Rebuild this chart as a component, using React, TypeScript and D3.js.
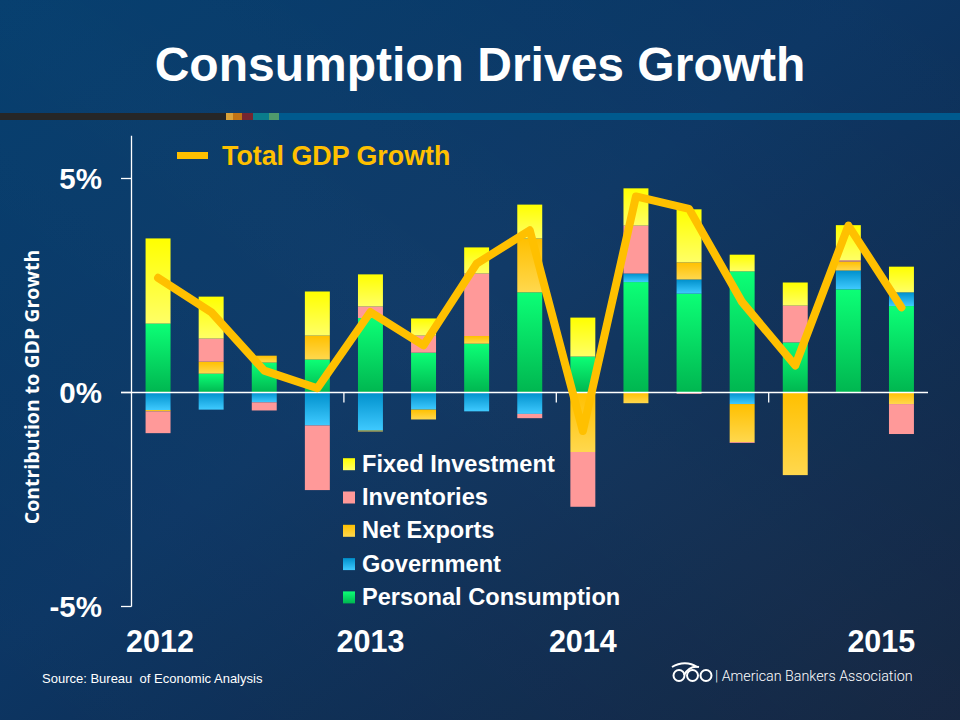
import * as d3 from "d3";

// ── Data ──────────────────────────────────────────────────────────────────────

const QUARTERS = [
  "2012Q1", "2012Q2", "2012Q3", "2012Q4",
  "2013Q1", "2013Q2", "2013Q3", "2013Q4",
  "2014Q1", "2014Q2", "2014Q3", "2014Q4",
  "2015Q1", "2015Q2", "2015Q3",
];

const SERIES = ["Personal Consumption", "Government", "Net Exports", "Inventories", "Fixed Investment"];

const CONSUMPTION = [1.61, 0.44, 0.70, 0.77, 1.74, 0.93, 1.14, 2.34, 0.84, 2.58, 2.31, 2.83, 1.17, 2.41, 2.02];
const GOVERNMENT  = [-0.41, -0.40, -0.23, -0.77, -0.89, -0.40, -0.44, -0.50, 0, 0.20, 0.33, -0.27, 0, 0.44, 0.32];
const NET_EXPORTS = [-0.03, 0.28, 0.16, 0.56, -0.02, -0.23, 0.18, 1.26, -1.39, -0.25, 0.40, -0.89, -1.93, 0.21, -0.27];
const INVENTORIES = [-0.51, 0.54, -0.19, -1.51, 0.27, 0.40, 1.46, -0.10, -1.28, 1.12, -0.03, -0.02, 0.86, 0.03, -0.70];
const FIXED_INV   = [1.99, 0.98, 0, 1.03, 0.75, 0.40, 0.61, 0.79, 0.91, 0.87, 1.24, 0.39, 0.54, 0.82, 0.60];

const TOTAL_GDP = [2.68, 1.88, 0.51, 0.10, 1.88, 1.10, 3.01, 3.79, -0.90, 4.58, 4.29, 2.11, 0.63, 3.90, 1.99];

const Y_TICKS = [-5, 0, 5];
const YEARS = ["2012", "2013", "2014", "2015"];

// ── Config ────────────────────────────────────────────────────────────────────

const W = 960;
const H = 720;
const FONT = "'Liberation Sans', Arial, Helvetica, sans-serif";

const GRADS: Record<string, [string, string]> = {
  "Personal Consumption": ["#0cff76", "#00b650"],
  "Government":           ["#0090cc", "#3fcaff"],
  "Net Exports":          ["#ffc000", "#ffd84e"],
  "Inventories":          ["#ff9999", "#ff9999"],
  "Fixed Investment":     ["#ffff00", "#ffff66"],
};

const STRIPE = [
  { x0: 0,   x1: 226, c: "#262626" },
  { x0: 226, x1: 233, c: "#d9a23a" },
  { x0: 233, x1: 242, c: "#c07314" },
  { x0: 242, x1: 253, c: "#762530" },
  { x0: 253, x1: 269, c: "#0a7c8c" },
  { x0: 269, x1: 279, c: "#4f9a6c" },
  { x0: 279, x1: 960, c: "#005a8e" },
];

const x = d3.scaleBand<string>()
  .domain(QUARTERS)
  .range([131.5, 928])
  .paddingInner(0.53)
  .paddingOuter(0.265);

const y = d3.scaleLinear().domain([-5, 6]).range([606.5, 135.7]);

const gid = (k: string) => "g-" + k.replace(/\s+/g, "-");

// ── Component ─────────────────────────────────────────────────────────────────

export default function App() {
  const rows = QUARTERS.map((q, i) => ({
    q,
    "Personal Consumption": CONSUMPTION[i],
    "Government":           GOVERNMENT[i],
    "Net Exports":          NET_EXPORTS[i],
    "Inventories":          INVENTORIES[i],
    "Fixed Investment":     FIXED_INV[i],
  }));

  const stacked = d3.stack<any>()
    .keys(SERIES)
    .offset(d3.stackOffsetDiverging)(rows);

  const bw = x.bandwidth();
  const gap = (x.step() - bw) / 2;
  const cx = (q: string) => (x(q) ?? 0) + bw / 2;

  const line = d3.line<number>()
    .x((_, i) => cx(QUARTERS[i]))
    .y((d) => y(d));

  const yearTicks = ["2013Q1", "2014Q1", "2015Q1"].map((q) => (x(q) ?? 0) - gap);
  const yearLabelX = [
    cx("2012Q1") + 2,
    cx("2013Q1"),
    cx("2014Q1"),
    cx("2015Q2") + 33,
  ];

  const legendItems = [...SERIES].reverse();

  return (
    <svg
      width={W}
      height={H}
      style={{ position: "absolute", left: 0, top: 0, display: "block" }}
      fontFamily={FONT}
    >
      <defs>
        <linearGradient id="bg" x1="0" y1="0" x2="1" y2="1">
          <stop offset="0%" stopColor="#013b6c" />
          <stop offset="45%" stopColor="#0c3664" />
          <stop offset="100%" stopColor="#11223d" />
        </linearGradient>
        <linearGradient id="band" x1="0" y1="1" x2="1" y2="0">
          <stop offset="0%" stopColor="#ffffff" stopOpacity="0" />
          <stop offset="50%" stopColor="#ffffff" stopOpacity="0.025" />
          <stop offset="100%" stopColor="#ffffff" stopOpacity="0" />
        </linearGradient>
        {SERIES.map((k) => (
          <linearGradient key={k} id={gid(k)} x1="0" y1="0" x2="0" y2="1">
            <stop offset="0%" stopColor={GRADS[k][0]} />
            <stop offset="100%" stopColor={GRADS[k][1]} />
          </linearGradient>
        ))}
      </defs>

      {/* Background */}
      <rect x={0} y={0} width={W} height={H} fill="url(#bg)" />
      <rect x={0} y={0} width={W} height={H} fill="url(#band)" />

      {/* Header stripe */}
      {STRIPE.map((s, i) => (
        <rect key={i} x={s.x0} y={113} width={s.x1 - s.x0} height={7} fill={s.c} />
      ))}

      {/* Title */}
      <text x={W / 2} y={81} textAnchor="middle" fill="#fff" fontSize={48} fontWeight="bold">
        Consumption Drives Growth
      </text>

      {/* Bars */}
      {stacked.map((layer) => (
        <g key={layer.key} fill={`url(#${gid(layer.key)})`}>
          {layer.map((d, i) => {
            const top = y(Math.max(d[0], d[1]));
            const h = Math.abs(y(d[0]) - y(d[1]));
            if (h < 0.3) return null;
            return <rect key={i} x={x(QUARTERS[i])} y={top} width={bw} height={h} />;
          })}
        </g>
      ))}

      {/* Axes */}
      <line x1={131.5} x2={131.5} y1={y(6)} y2={y(-5)} stroke="#fff" strokeWidth={1.3} />
      {Y_TICKS.map((t) => (
        <g key={t}>
          <line x1={121} x2={131.5} y1={y(t)} y2={y(t)} stroke="#fff" strokeWidth={1.3} />
          <text
            x={102}
            y={y(t)}
            dy="0.36em"
            textAnchor="end"
            fill="#fff"
            fontSize={29.5}
            fontWeight="bold"
          >
            {`${t}%`}
          </text>
        </g>
      ))}
      <line x1={121} x2={928} y1={y(0)} y2={y(0)} stroke="#fff" strokeWidth={1.5} />
      {yearTicks.map((tx, i) => (
        <line key={i} x1={tx} x2={tx} y1={y(0)} y2={y(0) + 10} stroke="#fff" strokeWidth={1.3} />
      ))}

      {/* Total GDP line */}
      <path
        d={line(TOTAL_GDP) ?? ""}
        fill="none"
        stroke="#ffc000"
        strokeWidth={8}
        strokeLinejoin="round"
        strokeLinecap="round"
      />

      {/* Year labels */}
      {YEARS.map((yr, i) => (
        <text key={yr} x={yearLabelX[i]} y={652} textAnchor="middle" fill="#fff" fontSize={30.5} fontWeight="bold">
          {yr}
        </text>
      ))}

      {/* Y label */}
      <text
        transform={`translate(39,${387}) rotate(-90)`}
        textAnchor="middle"
        fill="#fff"
        fontSize={19.5}
        fontWeight="bold"
        fontFamily="'Open Sans', sans-serif"
      >
        Contribution to GDP Growth
      </text>

      {/* Line legend */}
      <line x1={177} x2={208} y1={155.5} y2={155.5} stroke="#ffc000" strokeWidth={7} />
      <text x={222} y={165} fill="#ffc000" fontSize={26.8} fontWeight="bold">
        Total GDP Growth
      </text>

      {/* Bar legend */}
      {legendItems.map((k, i) => {
        const by = 471.7 + i * 33.3;
        return (
          <g key={k}>
            <rect x={343} y={by - 13.5} width={12} height={12} fill={`url(#${gid(k)})`} />
            <text x={362} y={by} fill="#fff" fontSize={23.6} fontWeight="bold">
              {k}
            </text>
          </g>
        );
      })}

      {/* Source */}
      <text x={42} y={683} fill="#fff" fontSize={13} style={{ whiteSpace: "pre" }}>
        {"Source: Bureau  of Economic Analysis"}
      </text>

      {/* ABA logo */}
      <g fill="none" stroke="#fff" strokeWidth={2}>
        <path d="M672,667 C680,662 690,662 697,667" />
        <ellipse cx={679} cy={675.5} rx={5.5} ry={5.5} />
        <path d="M684,675 C688,668 694,666 699,667" />
        <ellipse cx={692.5} cy={675.5} rx={5.5} ry={5.5} />
        <ellipse cx={706} cy={675.5} rx={5.5} ry={5.5} />
      </g>
      <text x={715} y={681} fill="#fff" fontSize={14.3} fontFamily="Roboto, 'Liberation Sans', sans-serif" fontWeight={300}>
        | American Bankers Association
      </text>
    </svg>
  );
}
